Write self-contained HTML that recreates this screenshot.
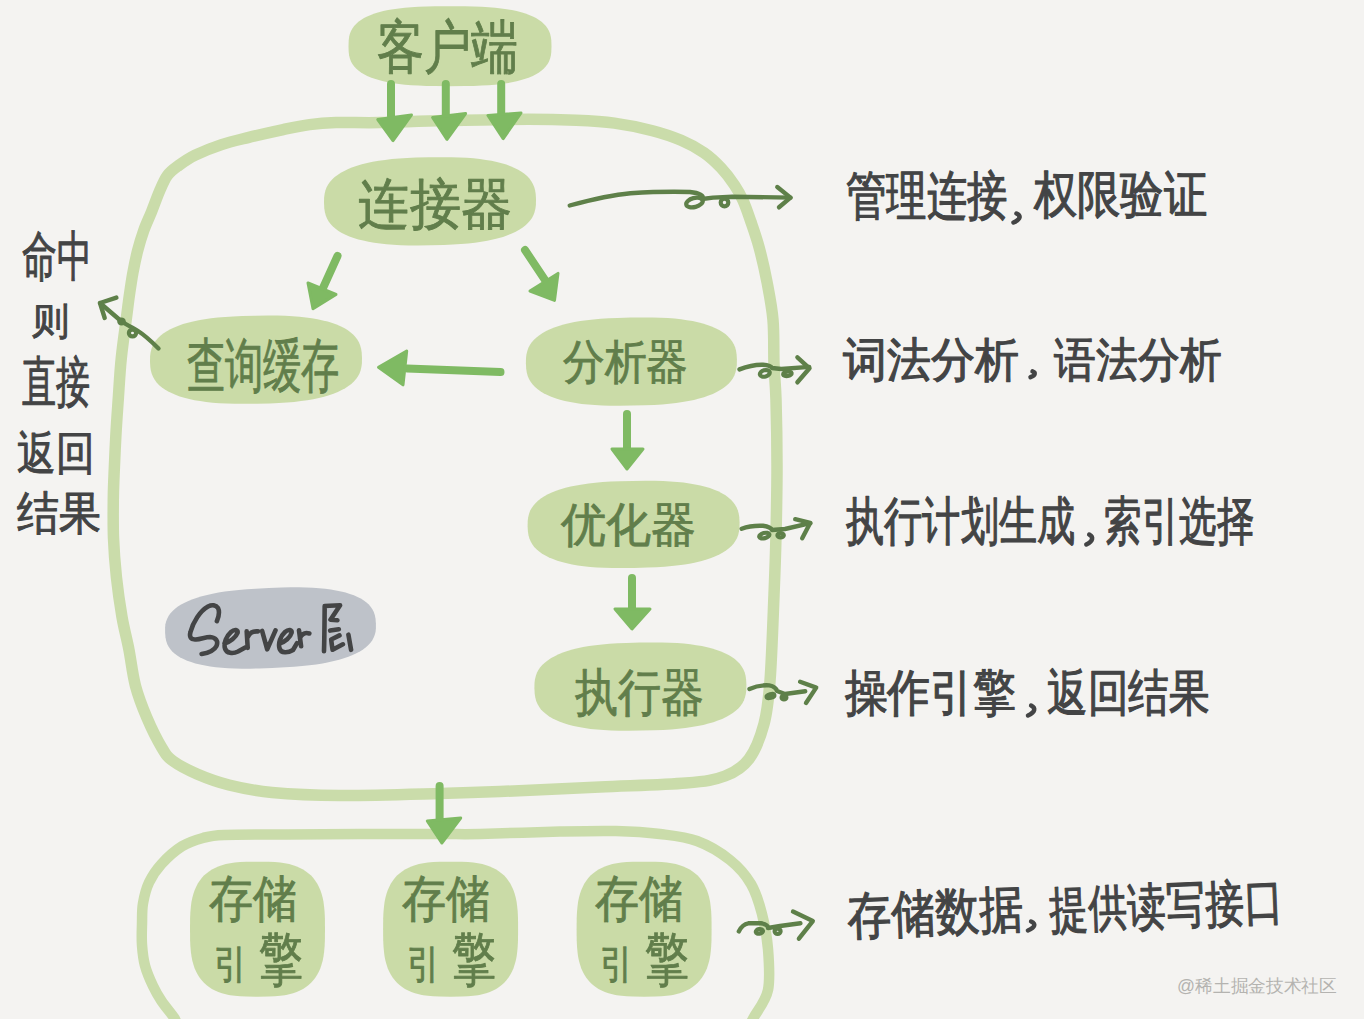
<!DOCTYPE html>
<html><head><meta charset="utf-8"><title>MySQL架构</title>
<style>html,body{margin:0;padding:0;background:#f4f3f1;width:1364px;height:1022px;overflow:hidden}
svg{display:block;font-family:"Liberation Sans",sans-serif}</style></head>
<body><svg width="1364" height="1022" viewBox="0 0 1364 1022"><rect x="0" y="0" width="1364" height="1022" fill="#f4f3f1"/>
<path d="M380,122.6 C361.8,122.9 347.7,122.3 336,122.6 C324.3,122.9 318.4,123.4 309.6,124.6 C300.8,125.8 293.5,127.4 283.2,129.6 C272.9,131.8 258.3,135.1 248,137.6 C237.7,140.1 230.4,141.7 221.6,144.6 C212.8,147.5 202.5,151.6 195.2,155.2 C187.9,158.8 182.7,162.6 178,166 C173.3,169.4 170.4,171.4 167.3,175.6 C164.2,179.8 162.1,185.3 159.5,191.3 C156.9,197.3 154.2,205.1 151.6,211.6 C149.0,218.1 146.1,223.9 143.8,230.4 C141.5,236.9 139.4,243.8 137.6,250.8 C135.8,257.9 134.2,265.7 132.9,272.7 C131.6,279.7 130.8,285.7 129.7,293 C128.6,300.3 128.0,305.7 126.6,316.5 C125.2,327.3 122.7,344.6 121.3,358 C119.9,371.4 119.3,383.9 118.4,397 C117.5,410.1 116.5,423.4 115.8,436.6 C115.1,449.8 114.4,465.6 114,476 C113.6,486.4 113.4,488.7 113.3,499 C113.2,509.3 113.0,525.0 113.5,538 C114.0,551.0 115.0,563.8 116.4,577 C117.8,590.2 119.9,604.8 122,617 C124.1,629.2 126.8,638.5 129,650 C131.2,661.5 132.5,674.7 135.5,686 C138.5,697.3 142.6,707.7 147,718 C151.4,728.3 157.7,740.8 162,748 C166.3,755.2 167.2,756.7 173,761 C178.8,765.3 187.7,770.0 197,774 C206.3,778.0 216.5,781.9 229,785 C241.5,788.1 253.5,790.8 272,792.5 C290.5,794.2 312.0,795.3 340,795.5 C368.0,795.7 413.3,794.2 440,793.5 C466.7,792.8 473.3,792.6 500,791.5 C526.7,790.4 569.0,788.4 600,787 C631.0,785.6 665.2,784.8 686,783 C706.8,781.2 714.5,780.0 725,776 C735.5,772.0 742.5,767.7 749,759 C755.5,750.3 760.5,737.0 764,724 C767.5,711.0 768.3,702.5 770,681 C771.7,659.5 773.0,619.3 774,595 C775.0,570.7 775.5,556.5 776,535 C776.5,513.5 777.0,488.5 777,466 C777.0,443.5 776.5,417.0 776,400 C775.5,383.0 774.5,377.3 774,364 C773.5,350.7 774.2,333.7 773,320 C771.8,306.3 769.3,294.2 767,282 C764.7,269.8 761.7,257.0 759,247 C756.3,237.0 753.7,229.8 751,222 C748.3,214.2 745.8,206.5 743,200.3 C740.2,194.2 738.1,190.5 734.5,185.1 C730.9,179.7 726.2,173.3 721.1,167.9 C716.0,162.5 710.7,157.3 704,152.7 C697.3,148.1 689.7,144.0 681.1,140.3 C672.5,136.6 663.6,133.6 652.5,130.7 C641.4,127.8 627.1,124.8 614.4,123.1 C601.7,121.4 590.5,120.9 576.2,120.3 C561.9,119.7 550.5,119.3 528.6,119.3 C506.7,119.3 469.8,120.0 445,120.5 C420.2,121.0 398.2,122.2 380,122.6Z" fill="none" stroke="#cadcaa" stroke-width="11.5" stroke-linejoin="round"/>
<path d="M176,1022 C175.7,1021.2 176.4,1021.0 174,1017.5 C171.6,1014.0 165.0,1006.2 161.5,1001 C158.0,995.8 155.8,991.9 153,986 C150.2,980.1 146.8,972.4 145,965.6 C143.2,958.8 142.5,951.9 142,945 C141.5,938.1 141.8,930.9 142,924 C142.2,917.1 141.8,910.3 143,903.4 C144.2,896.5 145.9,889.2 149,882.6 C152.1,876.0 156.0,870.0 161.5,864 C167.0,858.0 175.1,850.6 182,846.3 C188.9,842.0 196.0,839.9 203,838 C210.0,836.1 210.2,835.6 224,835 C237.8,834.4 263.3,834.7 286,834.5 C308.7,834.3 334.3,834.1 360,834 C385.7,833.9 420.0,834.0 440,834 C460.0,834.0 460.0,834.4 480,834 C500.0,833.6 537.3,832.0 560,831.5 C582.7,831.0 599.3,830.6 616,831 C632.7,831.4 646.5,832.3 660,834 C673.5,835.7 685.3,836.7 697,841 C708.7,845.3 721.0,852.8 730,860 C739.0,867.2 745.7,875.0 751,884 C756.3,893.0 759.2,903.2 762,914 C764.8,924.8 767.0,936.3 768,949 C769.0,961.7 770.3,978.7 768,990 C765.7,1001.3 757.0,1011.3 754,1017 C751.0,1022.7 750.7,1022.8 750,1024" fill="none" stroke="#cadcaa" stroke-width="10.5" stroke-linecap="round"/>
<rect x="0" y="1019" width="1364" height="3" fill="#ffffff"/>
<path d="M551.5,46.2 L551.3,51.9 L550.9,55.5 L550.1,58.6 L549.0,61.4 L547.6,64.0 L545.9,66.3 L543.9,68.5 L541.6,70.6 L539.0,72.5 L536.0,74.3 L532.8,75.9 L529.2,77.4 L525.4,78.8 L521.2,80.1 L516.7,81.3 L511.9,82.3 L506.7,83.2 L501.1,84.0 L495.1,84.7 L488.7,85.2 L481.6,85.6 L473.7,86.0 L464.5,86.1 L450.0,86.2 L435.5,86.1 L426.3,86.0 L418.4,85.6 L411.3,85.2 L404.9,84.7 L398.9,84.0 L393.3,83.2 L388.1,82.3 L383.3,81.3 L378.8,80.1 L374.6,78.8 L370.8,77.4 L367.2,75.9 L364.0,74.3 L361.0,72.5 L358.4,70.6 L356.1,68.5 L354.1,66.3 L352.4,64.0 L351.0,61.4 L349.9,58.6 L349.1,55.5 L348.7,51.9 L348.5,46.2 L348.7,40.5 L349.1,36.9 L349.9,33.8 L351.0,31.0 L352.4,28.4 L354.1,26.1 L356.1,23.9 L358.4,21.8 L361.0,19.9 L364.0,18.1 L367.2,16.5 L370.8,15.0 L374.6,13.6 L378.8,12.3 L383.3,11.1 L388.1,10.1 L393.3,9.2 L398.9,8.4 L404.9,7.7 L411.3,7.2 L418.4,6.8 L426.3,6.4 L435.5,6.3 L450.0,6.2 L464.5,6.3 L473.7,6.4 L481.6,6.8 L488.7,7.2 L495.1,7.7 L501.1,8.4 L506.7,9.2 L511.9,10.1 L516.7,11.1 L521.2,12.3 L525.4,13.6 L529.2,15.0 L532.8,16.5 L536.0,18.1 L539.0,19.9 L541.6,21.8 L543.9,23.9 L545.9,26.1 L547.6,28.4 L549.0,31.0 L550.1,33.8 L550.9,36.9 L551.3,40.5Z" fill="#cadba7"/>
<path d="M536.0,199.5 L535.9,204.9 L535.4,208.6 L534.6,212.0 L533.5,215.1 L532.0,217.9 L530.1,220.6 L527.9,223.1 L525.3,225.5 L522.4,227.7 L519.2,229.8 L515.7,231.7 L511.8,233.6 L507.5,235.3 L503.0,236.9 L498.1,238.3 L492.9,239.6 L487.3,240.8 L481.3,241.8 L475.0,242.7 L468.2,243.5 L460.9,244.1 L452.9,244.6 L443.8,245.0 L430.8,245.3 L417.8,245.4 L408.6,245.4 L400.6,245.2 L393.3,244.8 L386.5,244.3 L380.1,243.6 L374.1,242.7 L368.5,241.8 L363.2,240.6 L358.3,239.4 L353.7,238.0 L349.4,236.4 L345.5,234.7 L341.8,232.9 L338.5,230.9 L335.6,228.8 L332.9,226.5 L330.6,224.1 L328.7,221.4 L327.1,218.7 L325.8,215.6 L324.9,212.3 L324.3,208.5 L324.0,203.1 L324.1,197.7 L324.6,194.0 L325.4,190.6 L326.5,187.5 L328.0,184.7 L329.9,182.0 L332.1,179.5 L334.7,177.1 L337.6,174.9 L340.8,172.8 L344.3,170.9 L348.2,169.0 L352.5,167.3 L357.0,165.7 L361.9,164.3 L367.1,163.0 L372.7,161.8 L378.7,160.8 L385.0,159.9 L391.8,159.1 L399.1,158.5 L407.1,158.0 L416.2,157.6 L429.2,157.3 L442.2,157.2 L451.4,157.2 L459.4,157.4 L466.7,157.8 L473.5,158.3 L479.9,159.0 L485.9,159.9 L491.5,160.8 L496.8,162.0 L501.7,163.2 L506.3,164.6 L510.6,166.2 L514.5,167.9 L518.2,169.7 L521.5,171.7 L524.4,173.8 L527.1,176.1 L529.4,178.5 L531.3,181.2 L532.9,183.9 L534.2,187.0 L535.1,190.3 L535.7,194.1Z" fill="#cadba7"/>
<path d="M362.0,357.9 L361.9,363.3 L361.4,367.0 L360.6,370.4 L359.5,373.5 L358.0,376.3 L356.1,379.0 L353.9,381.5 L351.3,383.9 L348.4,386.1 L345.2,388.2 L341.7,390.1 L337.8,392.0 L333.5,393.7 L329.0,395.3 L324.1,396.7 L318.9,398.0 L313.3,399.2 L307.3,400.2 L301.0,401.1 L294.2,401.9 L286.9,402.5 L278.9,403.0 L269.8,403.4 L256.8,403.7 L243.8,403.8 L234.6,403.8 L226.6,403.6 L219.3,403.2 L212.5,402.7 L206.1,402.0 L200.1,401.1 L194.5,400.2 L189.2,399.0 L184.3,397.8 L179.7,396.4 L175.4,394.8 L171.5,393.1 L167.8,391.3 L164.5,389.3 L161.6,387.2 L158.9,384.9 L156.6,382.5 L154.7,379.8 L153.1,377.1 L151.8,374.0 L150.9,370.7 L150.3,366.9 L150.0,361.5 L150.1,356.1 L150.6,352.4 L151.4,349.0 L152.5,345.9 L154.0,343.1 L155.9,340.4 L158.1,337.9 L160.7,335.5 L163.6,333.3 L166.8,331.2 L170.3,329.3 L174.2,327.4 L178.5,325.7 L183.0,324.1 L187.9,322.7 L193.1,321.4 L198.7,320.2 L204.7,319.2 L211.0,318.3 L217.8,317.5 L225.1,316.9 L233.1,316.4 L242.2,316.0 L255.2,315.7 L268.2,315.6 L277.4,315.6 L285.4,315.8 L292.7,316.2 L299.5,316.7 L305.9,317.4 L311.9,318.3 L317.5,319.2 L322.8,320.4 L327.7,321.6 L332.3,323.0 L336.6,324.6 L340.5,326.3 L344.2,328.1 L347.5,330.1 L350.4,332.2 L353.1,334.5 L355.4,336.9 L357.3,339.6 L358.9,342.3 L360.2,345.4 L361.1,348.7 L361.7,352.5Z" fill="#cadba7"/>
<path d="M736.9,359.8 L736.8,365.2 L736.3,369.0 L735.5,372.3 L734.4,375.4 L732.9,378.2 L731.0,380.9 L728.8,383.4 L726.3,385.8 L723.4,388.0 L720.2,390.1 L716.7,392.1 L712.8,393.9 L708.6,395.6 L704.0,397.2 L699.2,398.6 L694.0,399.9 L688.4,401.1 L682.5,402.1 L676.2,403.0 L669.4,403.8 L662.2,404.4 L654.2,404.9 L645.1,405.3 L632.2,405.6 L619.2,405.7 L610.1,405.7 L602.2,405.5 L594.9,405.1 L588.1,404.6 L581.7,403.9 L575.8,403.0 L570.2,402.1 L564.9,400.9 L560.0,399.7 L555.4,398.3 L551.2,396.7 L547.3,395.0 L543.6,393.2 L540.4,391.2 L537.4,389.1 L534.8,386.8 L532.5,384.3 L530.6,381.7 L529.0,378.9 L527.7,375.9 L526.8,372.6 L526.2,368.8 L525.9,363.4 L526.0,358.0 L526.5,354.2 L527.3,350.9 L528.4,347.8 L529.9,345.0 L531.8,342.3 L534.0,339.8 L536.5,337.4 L539.4,335.2 L542.6,333.1 L546.1,331.1 L550.0,329.3 L554.2,327.6 L558.8,326.0 L563.6,324.6 L568.8,323.3 L574.4,322.1 L580.3,321.1 L586.6,320.2 L593.4,319.4 L600.6,318.8 L608.6,318.3 L617.7,317.9 L630.6,317.6 L643.6,317.5 L652.7,317.5 L660.6,317.7 L667.9,318.1 L674.7,318.6 L681.1,319.3 L687.0,320.2 L692.6,321.1 L697.9,322.3 L702.8,323.5 L707.4,324.9 L711.6,326.5 L715.5,328.2 L719.2,330.0 L722.4,332.0 L725.4,334.1 L728.0,336.4 L730.3,338.9 L732.2,341.5 L733.8,344.3 L735.1,347.3 L736.0,350.6 L736.6,354.4Z" fill="#cadba7"/>
<path d="M739.6,522.6 L739.5,527.9 L739.0,531.6 L738.2,534.9 L737.1,538.0 L735.5,540.8 L733.7,543.4 L731.5,545.9 L728.9,548.3 L726.0,550.5 L722.8,552.5 L719.3,554.5 L715.4,556.3 L711.1,558.0 L706.6,559.5 L701.7,561.0 L696.5,562.3 L690.9,563.4 L684.9,564.4 L678.6,565.3 L671.8,566.1 L664.5,566.7 L656.5,567.2 L647.4,567.6 L634.4,567.9 L621.4,568.0 L612.2,568.0 L604.2,567.8 L596.9,567.4 L590.1,566.9 L583.7,566.2 L577.7,565.4 L572.1,564.4 L566.8,563.3 L561.9,562.1 L557.3,560.7 L553.0,559.1 L549.0,557.5 L545.4,555.6 L542.1,553.7 L539.2,551.6 L536.5,549.3 L534.2,546.9 L532.3,544.3 L530.7,541.6 L529.4,538.6 L528.5,535.3 L527.9,531.6 L527.6,526.2 L527.7,520.9 L528.2,517.2 L529.0,513.9 L530.1,510.8 L531.7,508.0 L533.5,505.4 L535.7,502.9 L538.3,500.5 L541.2,498.3 L544.4,496.3 L547.9,494.3 L551.8,492.5 L556.1,490.8 L560.6,489.3 L565.5,487.8 L570.7,486.5 L576.3,485.4 L582.3,484.4 L588.6,483.5 L595.4,482.7 L602.7,482.1 L610.7,481.6 L619.8,481.2 L632.8,480.9 L645.8,480.8 L655.0,480.8 L663.0,481.0 L670.3,481.4 L677.1,481.9 L683.5,482.6 L689.5,483.4 L695.1,484.4 L700.4,485.5 L705.3,486.7 L709.9,488.1 L714.2,489.7 L718.2,491.3 L721.8,493.2 L725.1,495.1 L728.0,497.2 L730.7,499.5 L733.0,501.9 L734.9,504.5 L736.5,507.2 L737.8,510.2 L738.7,513.5 L739.3,517.2Z" fill="#cadba7"/>
<path d="M746.4,684.8 L746.3,690.2 L745.8,693.9 L745.0,697.3 L743.9,700.4 L742.4,703.2 L740.5,705.9 L738.3,708.4 L735.7,710.8 L732.8,713.0 L729.6,715.1 L726.1,717.0 L722.2,718.9 L717.9,720.6 L713.4,722.2 L708.5,723.6 L703.3,724.9 L697.7,726.1 L691.7,727.1 L685.4,728.0 L678.6,728.8 L671.3,729.4 L663.3,729.9 L654.2,730.3 L641.2,730.6 L628.2,730.7 L619.0,730.7 L611.0,730.5 L603.7,730.1 L596.9,729.6 L590.5,728.9 L584.5,728.0 L578.9,727.1 L573.6,725.9 L568.7,724.7 L564.1,723.3 L559.8,721.7 L555.9,720.0 L552.2,718.2 L548.9,716.2 L546.0,714.1 L543.3,711.8 L541.0,709.4 L539.1,706.7 L537.5,704.0 L536.2,700.9 L535.3,697.6 L534.7,693.8 L534.4,688.4 L534.5,683.0 L535.0,679.3 L535.8,675.9 L536.9,672.8 L538.4,670.0 L540.3,667.3 L542.5,664.8 L545.1,662.4 L548.0,660.2 L551.2,658.1 L554.7,656.2 L558.6,654.3 L562.9,652.6 L567.4,651.0 L572.3,649.6 L577.5,648.3 L583.1,647.1 L589.1,646.1 L595.4,645.2 L602.2,644.4 L609.5,643.8 L617.5,643.3 L626.6,642.9 L639.6,642.6 L652.6,642.5 L661.8,642.5 L669.8,642.7 L677.1,643.1 L683.9,643.6 L690.3,644.3 L696.3,645.2 L701.9,646.1 L707.2,647.3 L712.1,648.5 L716.7,649.9 L721.0,651.5 L724.9,653.2 L728.6,655.0 L731.9,657.0 L734.8,659.1 L737.5,661.4 L739.8,663.8 L741.7,666.5 L743.3,669.2 L744.6,672.3 L745.5,675.6 L746.1,679.4Z" fill="#cadba7"/>
<path d="M325.0,929.2 L324.9,940.2 L324.6,946.6 L324.1,951.9 L323.5,956.6 L322.6,960.9 L321.5,964.8 L320.3,968.4 L318.8,971.7 L317.2,974.8 L315.3,977.7 L313.3,980.3 L311.1,982.8 L308.6,985.0 L306.0,987.0 L303.1,988.9 L300.0,990.5 L296.7,992.0 L293.1,993.2 L289.2,994.3 L284.9,995.2 L280.2,995.8 L274.9,996.3 L268.5,996.6 L257.5,996.7 L246.5,996.6 L240.1,996.3 L234.8,995.8 L230.1,995.2 L225.8,994.3 L221.9,993.2 L218.3,992.0 L215.0,990.5 L211.9,988.9 L209.0,987.0 L206.4,985.0 L203.9,982.8 L201.7,980.3 L199.7,977.7 L197.8,974.8 L196.2,971.7 L194.7,968.4 L193.5,964.8 L192.4,960.9 L191.5,956.6 L190.9,951.9 L190.4,946.6 L190.1,940.2 L190.0,929.2 L190.1,918.2 L190.4,911.8 L190.9,906.5 L191.5,901.8 L192.4,897.5 L193.5,893.6 L194.7,890.0 L196.2,886.7 L197.8,883.6 L199.7,880.7 L201.7,878.1 L203.9,875.6 L206.4,873.4 L209.0,871.4 L211.9,869.5 L215.0,867.9 L218.3,866.4 L221.9,865.2 L225.8,864.1 L230.1,863.2 L234.8,862.6 L240.1,862.1 L246.5,861.8 L257.5,861.7 L268.5,861.8 L274.9,862.1 L280.2,862.6 L284.9,863.2 L289.2,864.1 L293.1,865.2 L296.7,866.4 L300.0,867.9 L303.1,869.5 L306.0,871.4 L308.6,873.4 L311.1,875.6 L313.3,878.1 L315.3,880.7 L317.2,883.6 L318.8,886.7 L320.3,890.0 L321.5,893.6 L322.6,897.5 L323.5,901.8 L324.1,906.5 L324.6,911.8 L324.9,918.2Z" fill="#cadba7"/>
<path d="M518.1,929.2 L518.0,940.2 L517.7,946.6 L517.2,951.9 L516.6,956.6 L515.7,960.9 L514.6,964.8 L513.4,968.4 L511.9,971.7 L510.3,974.8 L508.4,977.7 L506.4,980.3 L504.2,982.8 L501.7,985.0 L499.1,987.0 L496.2,988.9 L493.1,990.5 L489.8,992.0 L486.2,993.2 L482.3,994.3 L478.0,995.2 L473.3,995.8 L468.0,996.3 L461.6,996.6 L450.6,996.7 L439.6,996.6 L433.2,996.3 L427.9,995.8 L423.2,995.2 L418.9,994.3 L415.0,993.2 L411.4,992.0 L408.1,990.5 L405.0,988.9 L402.1,987.0 L399.5,985.0 L397.0,982.8 L394.8,980.3 L392.8,977.7 L390.9,974.8 L389.3,971.7 L387.8,968.4 L386.6,964.8 L385.5,960.9 L384.6,956.6 L384.0,951.9 L383.5,946.6 L383.2,940.2 L383.1,929.2 L383.2,918.2 L383.5,911.8 L384.0,906.5 L384.6,901.8 L385.5,897.5 L386.6,893.6 L387.8,890.0 L389.3,886.7 L390.9,883.6 L392.8,880.7 L394.8,878.1 L397.0,875.6 L399.5,873.4 L402.1,871.4 L405.0,869.5 L408.1,867.9 L411.4,866.4 L415.0,865.2 L418.9,864.1 L423.2,863.2 L427.9,862.6 L433.2,862.1 L439.6,861.8 L450.6,861.7 L461.6,861.8 L468.0,862.1 L473.3,862.6 L478.0,863.2 L482.3,864.1 L486.2,865.2 L489.8,866.4 L493.1,867.9 L496.2,869.5 L499.1,871.4 L501.7,873.4 L504.2,875.6 L506.4,878.1 L508.4,880.7 L510.3,883.6 L511.9,886.7 L513.4,890.0 L514.6,893.6 L515.7,897.5 L516.6,901.8 L517.2,906.5 L517.7,911.8 L518.0,918.2Z" fill="#cadba7"/>
<path d="M711.6,929.2 L711.5,940.2 L711.2,946.6 L710.7,951.9 L710.1,956.6 L709.2,960.9 L708.1,964.8 L706.9,968.4 L705.4,971.7 L703.8,974.8 L701.9,977.7 L699.9,980.3 L697.7,982.8 L695.2,985.0 L692.6,987.0 L689.7,988.9 L686.6,990.5 L683.3,992.0 L679.7,993.2 L675.8,994.3 L671.5,995.2 L666.8,995.8 L661.5,996.3 L655.1,996.6 L644.1,996.7 L633.1,996.6 L626.7,996.3 L621.4,995.8 L616.7,995.2 L612.4,994.3 L608.5,993.2 L604.9,992.0 L601.6,990.5 L598.5,988.9 L595.6,987.0 L593.0,985.0 L590.5,982.8 L588.3,980.3 L586.3,977.7 L584.4,974.8 L582.8,971.7 L581.3,968.4 L580.1,964.8 L579.0,960.9 L578.1,956.6 L577.5,951.9 L577.0,946.6 L576.7,940.2 L576.6,929.2 L576.7,918.2 L577.0,911.8 L577.5,906.5 L578.1,901.8 L579.0,897.5 L580.1,893.6 L581.3,890.0 L582.8,886.7 L584.4,883.6 L586.3,880.7 L588.3,878.1 L590.5,875.6 L593.0,873.4 L595.6,871.4 L598.5,869.5 L601.6,867.9 L604.9,866.4 L608.5,865.2 L612.4,864.1 L616.7,863.2 L621.4,862.6 L626.7,862.1 L633.1,861.8 L644.1,861.7 L655.1,861.8 L661.5,862.1 L666.8,862.6 L671.5,863.2 L675.8,864.1 L679.7,865.2 L683.3,866.4 L686.6,867.9 L689.7,869.5 L692.6,871.4 L695.2,873.4 L697.7,875.6 L699.9,878.1 L701.9,880.7 L703.8,883.6 L705.4,886.7 L706.9,890.0 L708.1,893.6 L709.2,897.5 L710.1,901.8 L710.7,906.5 L711.2,911.8 L711.5,918.2Z" fill="#cadba7"/>
<path d="M375.9,623.4 L375.9,628.3 L375.6,631.8 L374.8,634.8 L373.7,637.6 L372.3,640.3 L370.5,642.8 L368.4,645.1 L365.9,647.3 L363.1,649.4 L359.9,651.4 L356.4,653.3 L352.6,655.1 L348.4,656.7 L343.9,658.3 L339.1,659.7 L333.9,661.1 L328.4,662.3 L322.5,663.4 L316.2,664.4 L309.5,665.3 L302.2,666.1 L294.2,666.7 L285.2,667.3 L272.2,668.0 L259.3,668.5 L250.2,668.7 L242.2,668.7 L234.9,668.5 L228.1,668.2 L221.8,667.8 L215.8,667.2 L210.2,666.5 L205.0,665.6 L200.0,664.6 L195.4,663.4 L191.1,662.1 L187.1,660.7 L183.5,659.1 L180.2,657.4 L177.2,655.6 L174.5,653.6 L172.2,651.4 L170.2,649.1 L168.5,646.6 L167.2,643.9 L166.2,640.9 L165.5,637.5 L165.1,632.6 L165.1,627.7 L165.4,624.2 L166.2,621.2 L167.3,618.4 L168.7,615.7 L170.5,613.2 L172.6,610.9 L175.1,608.7 L177.9,606.6 L181.1,604.6 L184.6,602.7 L188.4,600.9 L192.6,599.3 L197.1,597.7 L201.9,596.3 L207.1,594.9 L212.6,593.7 L218.5,592.6 L224.8,591.6 L231.5,590.7 L238.8,589.9 L246.8,589.3 L255.8,588.7 L268.8,588.0 L281.7,587.5 L290.8,587.3 L298.8,587.3 L306.1,587.5 L312.9,587.8 L319.2,588.2 L325.2,588.8 L330.8,589.5 L336.0,590.4 L341.0,591.4 L345.6,592.6 L349.9,593.9 L353.9,595.3 L357.5,596.9 L360.8,598.6 L363.8,600.4 L366.5,602.4 L368.8,604.6 L370.8,606.9 L372.5,609.4 L373.8,612.1 L374.8,615.1 L375.5,618.5Z" fill="#bec2c9"/>
<path d="M391,84 L391,116" stroke="#7fba63" stroke-width="8" stroke-linecap="round" fill="none"/><path d="M377.8,119.5 L411.5,114.9 L393,140.6Z" fill="#7fba63" stroke="#7fba63" stroke-width="3" stroke-linejoin="round"/>
<path d="M445.8,84 L445.8,116" stroke="#7fba63" stroke-width="8" stroke-linecap="round" fill="none"/><path d="M432.6,117.5 L465.6,113.5 L447,139.3Z" fill="#7fba63" stroke="#7fba63" stroke-width="3" stroke-linejoin="round"/>
<path d="M501.2,84 L501.2,116" stroke="#7fba63" stroke-width="8" stroke-linecap="round" fill="none"/><path d="M488,115.5 L521,112.9 L503.2,138.6Z" fill="#7fba63" stroke="#7fba63" stroke-width="3" stroke-linejoin="round"/>
<path d="M337.5,256 L323,288" stroke="#7fba63" stroke-width="8" stroke-linecap="round" fill="none"/><path d="M308,283 L336,294.5 L313,308.6Z" fill="#7fba63" stroke="#7fba63" stroke-width="3" stroke-linejoin="round"/>
<path d="M525,250 L545,280" stroke="#7fba63" stroke-width="8" stroke-linecap="round" fill="none"/><path d="M530,291 L558,273.4 L554.5,300.4Z" fill="#7fba63" stroke="#7fba63" stroke-width="3" stroke-linejoin="round"/>
<path d="M500.5,372 L407,368.4" stroke="#7fba63" stroke-width="8" stroke-linecap="round" fill="none"/><path d="M406.7,351 L378.5,367.2 L403,384.8Z" fill="#7fba63" stroke="#7fba63" stroke-width="3" stroke-linejoin="round"/>
<path d="M627,414 L627,450" stroke="#7fba63" stroke-width="8" stroke-linecap="round" fill="none"/><path d="M612,449 L643,449 L627,469Z" fill="#7fba63" stroke="#7fba63" stroke-width="3" stroke-linejoin="round"/>
<path d="M632,578 L632,610" stroke="#7fba63" stroke-width="8" stroke-linecap="round" fill="none"/><path d="M615,609 L650,609 L632,629Z" fill="#7fba63" stroke="#7fba63" stroke-width="3" stroke-linejoin="round"/>
<path d="M439.6,786 L439.6,820" stroke="#7fba63" stroke-width="8" stroke-linecap="round" fill="none"/><path d="M427.3,821 L460.7,818 L441.8,843Z" fill="#7fba63" stroke="#7fba63" stroke-width="3" stroke-linejoin="round"/>
<path d="M569.7,205.5 C590,200 610,195 630.4,193.2 C650,192 675,191.5 690,192 C700,193 704,196 702.5,198" fill="none" stroke="#5e8049" stroke-width="4.4" stroke-linecap="round" stroke-linejoin="round"/>
<ellipse cx="694.5" cy="202.5" rx="8.5" ry="4.5" transform="rotate(-15 694.5 202.5)" fill="none" stroke="#5e8049" stroke-width="4.2"/>
<path d="M702,199 L713,197.6 L732.4,196.7 L790.5,197.6" fill="none" stroke="#5e8049" stroke-width="4.4" stroke-linecap="round" stroke-linejoin="round"/>
<ellipse cx="724.5" cy="202.5" rx="3.8" ry="3.8" transform="rotate(0 724.5 202.5)" fill="none" stroke="#5e8049" stroke-width="4.2"/>
<path d="M777.3,187 L790.5,197.6 L779,207.3" fill="none" stroke="#5e8049" stroke-width="4.4" stroke-linecap="round" stroke-linejoin="round"/>
<path d="M739.5,369.4 C748,366 756,364.5 763,364.7 C768,365 771,366 772,368 L781.3,369 L809.2,366.9" fill="none" stroke="#5e8049" stroke-width="4.4" stroke-linecap="round" stroke-linejoin="round"/>
<ellipse cx="764.8" cy="373.4" rx="5" ry="3.2" transform="rotate(-15 764.8 373.4)" fill="none" stroke="#5e8049" stroke-width="4.2"/>
<ellipse cx="787.4" cy="373.8" rx="4.3" ry="2.2" transform="rotate(-10 787.4 373.8)" fill="none" stroke="#5e8049" stroke-width="4.2"/>
<path d="M797.4,357.3 L809.5,368.3 L797.4,382.3" fill="none" stroke="#5e8049" stroke-width="4.4" stroke-linecap="round" stroke-linejoin="round"/>
<path d="M741.7,528.7 C749,526 756,525.5 763,525.8 C768,526.5 771,528 772,530 L785,529 L810.3,523.2" fill="none" stroke="#5e8049" stroke-width="4.4" stroke-linecap="round" stroke-linejoin="round"/>
<ellipse cx="764.3" cy="535.6" rx="5.2" ry="2.6" transform="rotate(-15 764.3 535.6)" fill="none" stroke="#5e8049" stroke-width="4.2"/>
<ellipse cx="780.6" cy="535.3" rx="3.2" ry="2.2" transform="rotate(0 780.6 535.3)" fill="none" stroke="#5e8049" stroke-width="4.2"/>
<path d="M795.2,519.2 L810.3,522.8 L802.2,538.2" fill="none" stroke="#5e8049" stroke-width="4.4" stroke-linecap="round" stroke-linejoin="round"/>
<path d="M749.5,689 C756,686 763,685 769.3,685.4 C773,686 776,688 777,691 L785,694 L805.2,691.3" fill="none" stroke="#5e8049" stroke-width="4.4" stroke-linecap="round" stroke-linejoin="round"/>
<ellipse cx="770.5" cy="696" rx="4" ry="1.8" transform="rotate(-15 770.5 696)" fill="none" stroke="#5e8049" stroke-width="4.2"/>
<ellipse cx="784" cy="697.5" rx="2.4" ry="2" transform="rotate(0 784 697.5)" fill="none" stroke="#5e8049" stroke-width="4.2"/>
<path d="M800.1,681.7 L816.2,687.6 L806,703" fill="none" stroke="#5e8049" stroke-width="4.4" stroke-linecap="round" stroke-linejoin="round"/>
<path d="M738.8,931.4 C741,927 744,924 748.3,923.3 L760.8,923.3 C766,924 768,926 768,928 L780,926 L800.4,923.3" fill="none" stroke="#5e8049" stroke-width="4.4" stroke-linecap="round" stroke-linejoin="round"/>
<ellipse cx="759.4" cy="931.4" rx="3.6" ry="2.3" transform="rotate(-10 759.4 931.4)" fill="none" stroke="#5e8049" stroke-width="4.2"/>
<ellipse cx="777.6" cy="931.2" rx="3" ry="2.6" transform="rotate(0 777.6 931.2)" fill="none" stroke="#5e8049" stroke-width="4.2"/>
<path d="M793,911.6 L812.8,921.1 L798.9,938.7" fill="none" stroke="#5e8049" stroke-width="4.4" stroke-linecap="round" stroke-linejoin="round"/>
<path d="M158.5,348.5 C153,343 146,336 138,331 C133,328 127,325 121,321 L100,303" fill="none" stroke="#5e8049" stroke-width="4.4" stroke-linecap="round" stroke-linejoin="round"/>
<ellipse cx="132.5" cy="333" rx="3.6" ry="3.4" transform="rotate(0 132.5 333)" fill="none" stroke="#5e8049" stroke-width="4.2"/>
<ellipse cx="121.5" cy="321.5" rx="2.2" ry="2" transform="rotate(0 121.5 321.5)" fill="none" stroke="#5e8049" stroke-width="4.2"/>
<path d="M116.4,297.6 L100,303 L104.7,318" fill="none" stroke="#5e8049" stroke-width="4.4" stroke-linecap="round" stroke-linejoin="round"/>
<text x="376.6" y="67.3" font-size="58.4" fill="#617e4b" stroke="#617e4b" stroke-width="0.9" stroke-linejoin="round" textLength="141.6" lengthAdjust="spacingAndGlyphs">客户端</text>
<text x="358.4" y="222.6" font-size="55.1" fill="#617e4b" stroke="#617e4b" stroke-width="0.9" stroke-linejoin="round" textLength="153.8" lengthAdjust="spacingAndGlyphs">连接器</text>
<text x="186.6" y="385.7" font-size="59.4" fill="#617e4b" stroke="#617e4b" stroke-width="0.9" stroke-linejoin="round" textLength="153.2" lengthAdjust="spacingAndGlyphs">查询缓存</text>
<text x="563.1" y="377.9" font-size="47.3" fill="#617e4b" stroke="#617e4b" stroke-width="0.9" stroke-linejoin="round" textLength="125.1" lengthAdjust="spacingAndGlyphs">分析器</text>
<text x="561.4" y="541.2" font-size="47.4" fill="#617e4b" stroke="#617e4b" stroke-width="0.9" stroke-linejoin="round" textLength="134.8" lengthAdjust="spacingAndGlyphs">优化器</text>
<text x="575.1" y="710.4" font-size="50.8" fill="#617e4b" stroke="#617e4b" stroke-width="0.9" stroke-linejoin="round" textLength="128.8" lengthAdjust="spacingAndGlyphs">执行器</text>
<text x="209.0" y="915.5" font-size="50.1" fill="#617e4b" stroke="#617e4b" stroke-width="0.9" stroke-linejoin="round" textLength="88.3" lengthAdjust="spacingAndGlyphs">存储</text>
<text x="214.0" y="978.4" font-size="39.9" fill="#617e4b" stroke="#617e4b" stroke-width="0.9" stroke-linejoin="round" textLength="33.0" lengthAdjust="spacingAndGlyphs">引</text>
<text x="258.9" y="978.6" font-size="56.9" fill="#617e4b" stroke="#617e4b" stroke-width="0.9" stroke-linejoin="round" textLength="44.0" lengthAdjust="spacingAndGlyphs">擎</text>
<text x="402.1" y="915.5" font-size="50.1" fill="#617e4b" stroke="#617e4b" stroke-width="0.9" stroke-linejoin="round" textLength="88.3" lengthAdjust="spacingAndGlyphs">存储</text>
<text x="407.1" y="978.4" font-size="39.9" fill="#617e4b" stroke="#617e4b" stroke-width="0.9" stroke-linejoin="round" textLength="33.0" lengthAdjust="spacingAndGlyphs">引</text>
<text x="452.0" y="978.6" font-size="56.9" fill="#617e4b" stroke="#617e4b" stroke-width="0.9" stroke-linejoin="round" textLength="44.0" lengthAdjust="spacingAndGlyphs">擎</text>
<text x="594.8" y="915.5" font-size="50.1" fill="#617e4b" stroke="#617e4b" stroke-width="0.9" stroke-linejoin="round" textLength="88.3" lengthAdjust="spacingAndGlyphs">存储</text>
<text x="599.8" y="978.4" font-size="39.9" fill="#617e4b" stroke="#617e4b" stroke-width="0.9" stroke-linejoin="round" textLength="33.0" lengthAdjust="spacingAndGlyphs">引</text>
<text x="644.7" y="978.6" font-size="56.9" fill="#617e4b" stroke="#617e4b" stroke-width="0.9" stroke-linejoin="round" textLength="44.0" lengthAdjust="spacingAndGlyphs">擎</text>
<path d="M216.9,621.2 C219,616 219.5,611 218,608 C216,605 212,604.5 208,606.5 C200,611 193,622 190.5,632 C189,637 191,640 196,639.5 C201,639 206,637 210,637 C216,637.5 218.5,641 216.5,646 C214.5,650 208,653 201.6,654 M224.5,643.5 C230,642 236,637 237.5,633 C238.5,629.5 234.5,629 231,632 C226.5,636 223.5,643 225,648.5 C226.5,653.5 233,654 238,651.5 L245.7,647.3 M246.7,631.4 L247.7,647.9 M247.7,637.1 C250,633 252,631 258,631.4 M262.1,630.9 L267.2,649.4 L275.5,630.4 M279.5,643.5 C285,642 290.5,637 291.5,633 C292.5,629.5 288.5,629 285,632 C280.5,636 278,643 279.5,648.5 C281,653.5 288,653 293,650 L297,643.2 M299,630.4 L301.1,646.3 M300,638 C302,634 305,632 309.3,633.5 M324.7,606 C324.5,620 324.5,636 324,651.2 M324.7,606 L340.1,605.3 L330.5,619.7 L337.4,620.3 M330.2,630.6 L338.8,629.2 M339.5,635.4 L331.2,639.5 C331.5,643 332,646 332.6,649.8 L342.9,644.3 M348.4,634.7 L351.1,649.8" fill="none" stroke="#434445" stroke-width="4.6" stroke-linecap="round" stroke-linejoin="round"/>
<text x="846.0" y="213.9" font-size="52.8" fill="#434445" stroke="#434445" stroke-width="1.2" stroke-linejoin="round" textLength="161.6" lengthAdjust="spacingAndGlyphs">管理连接</text>
<path d="M1016.5,213.5 C1021.0,215.6 1021.0,219.2 1013.5,222.5" fill="none" stroke="#434445" stroke-width="4.5" stroke-linecap="round"/>
<text x="1033.5" y="212.2" font-size="50.9" fill="#434445" stroke="#434445" stroke-width="1.2" stroke-linejoin="round" textLength="173.5" lengthAdjust="spacingAndGlyphs">权限验证</text>
<text x="843.3" y="375.5" font-size="46.8" fill="#434445" stroke="#434445" stroke-width="1.2" stroke-linejoin="round" textLength="175.8" lengthAdjust="spacingAndGlyphs">词法分析</text>
<path d="M1032.5,371.4 C1035.7,372.5 1035.7,375.1 1030.5,377.1" fill="none" stroke="#434445" stroke-width="4.5" stroke-linecap="round"/>
<text x="1054.4" y="375.5" font-size="46.8" fill="#434445" stroke="#434445" stroke-width="1.2" stroke-linejoin="round" textLength="167.0" lengthAdjust="spacingAndGlyphs">语法分析</text>
<text x="846.1" y="538.7" font-size="51.9" fill="#434445" stroke="#434445" stroke-width="1.2" stroke-linejoin="round" textLength="228.9" lengthAdjust="spacingAndGlyphs">执行计划生成</text>
<path d="M1089.2,534.5 C1093.5,536.9 1093.5,540.8 1086.3,544.5" fill="none" stroke="#434445" stroke-width="4.5" stroke-linecap="round"/>
<text x="1104.2" y="538.7" font-size="51.9" fill="#434445" stroke="#434445" stroke-width="1.2" stroke-linejoin="round" textLength="149.9" lengthAdjust="spacingAndGlyphs">索引选择</text>
<text x="844.5" y="710.3" font-size="50.2" fill="#434445" stroke="#434445" stroke-width="1.2" stroke-linejoin="round" textLength="171.7" lengthAdjust="spacingAndGlyphs">操作引擎</text>
<path d="M1031.1,705.5 C1035.7,707.9 1035.7,711.8 1028.0,715.5" fill="none" stroke="#434445" stroke-width="4.5" stroke-linecap="round"/>
<text x="1047.0" y="710.3" font-size="50.2" fill="#434445" stroke="#434445" stroke-width="1.2" stroke-linejoin="round" textLength="162.8" lengthAdjust="spacingAndGlyphs">返回结果</text>
<text x="847.5" y="930.2" font-size="51.2" fill="#434445" stroke="#434445" stroke-width="1.2" stroke-linejoin="round" textLength="175.1" lengthAdjust="spacingAndGlyphs" transform="rotate(-2.3 935.0 912.0)">存储数据</text>
<path d="M1031.1,921.5 C1035.8,923.6 1035.8,927.2 1027.9,930.5" fill="none" stroke="#434445" stroke-width="4.5" stroke-linecap="round"/>
<text x="1049.0" y="923.3" font-size="50.6" fill="#434445" stroke="#434445" stroke-width="1.2" stroke-linejoin="round" textLength="233.9" lengthAdjust="spacingAndGlyphs" transform="rotate(-2.3 1165.95 905.3)">提供读写接口</text>
<text x="1177" y="992" font-size="18" fill="#b4b3b0" textLength="160" lengthAdjust="spacingAndGlyphs">@稀土掘金技术社区</text>
<text x="21.7" y="274.7" font-size="53.6" fill="#434445" stroke="#434445" stroke-width="1.0" stroke-linejoin="round" textLength="69.7" lengthAdjust="spacingAndGlyphs">命中</text>
<text x="32.1" y="333.9" font-size="37.5" fill="#434445" stroke="#434445" stroke-width="1.0" stroke-linejoin="round" textLength="37.2" lengthAdjust="spacingAndGlyphs">则</text>
<text x="21.6" y="400.9" font-size="55.3" fill="#434445" stroke="#434445" stroke-width="1.0" stroke-linejoin="round" textLength="68.1" lengthAdjust="spacingAndGlyphs">直接</text>
<text x="16.9" y="468.9" font-size="45.6" fill="#434445" stroke="#434445" stroke-width="1.0" stroke-linejoin="round" textLength="77.5" lengthAdjust="spacingAndGlyphs">返回</text>
<text x="16.9" y="528.7" font-size="45.5" fill="#434445" stroke="#434445" stroke-width="1.0" stroke-linejoin="round" textLength="84.1" lengthAdjust="spacingAndGlyphs">结果</text></svg></body></html>
